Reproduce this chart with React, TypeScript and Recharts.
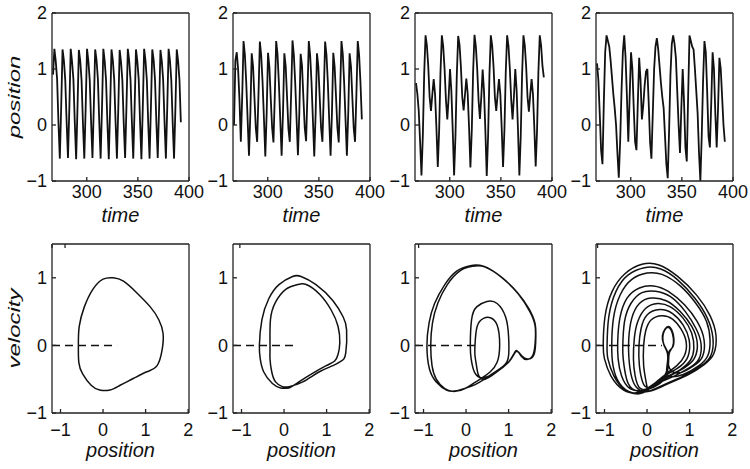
import { LineChart, Line, XAxis, YAxis, ReferenceLine } from 'recharts'

const FONT = '"Liberation Sans", Arial, Helvetica, sans-serif'
const INK = '#111'

// time axis (top row)
const TIME_START = 267
const TIME_STEP = 1.33
const TIME_DOMAIN = [266, 400]
const TIME_TICKS = [300, 350, 400]
const POS_DOMAIN = [-1, 2]
const POS_TICKS = [-1, 0, 1, 2]

// phase axes (bottom row)
const PHASE_DOMAIN = [-1.2, 2.02]
const PHASE_TICKS = [-1, 0, 1, 2]
const VEL_DOMAIN = [-1, 1.5]
const VEL_TICKS = [-1, 0, 1]

// position vs time, sampled every TIME_STEP
const SERIES_1 = [
  0.9,
  1.36, 1.14, 0.82, 0.04, -0.6, 0.32,
  1.35, 1.15, 0.8, 0.06, -0.59, 0.3,
  1.36, 1.13, 0.81, 0.05, -0.61, 0.31,
  1.34, 1.15, 0.79, 0.03, -0.6, 0.3,
  1.36, 1.14, 0.8, 0.05, -0.59, 0.33,
  1.35, 1.16, 0.82, 0.06, -0.6, 0.29,
  1.36, 1.14, 0.8, 0.04, -0.61, 0.31,
  1.35, 1.15, 0.81, 0.05, -0.6, 0.3,
  1.34, 1.13, 0.79, 0.03, -0.59, 0.32,
  1.36, 1.15, 0.8, 0.05, -0.6, 0.31,
  1.35, 1.14, 0.82, 0.06, -0.61, 0.3,
  1.36, 1.15, 0.8, 0.04, -0.6, 0.32,
  1.35, 1.16, 0.81, 0.05, -0.59, 0.3,
  1.34, 1.14, 0.8, 0.06, -0.6, 0.31,
  1.36, 1.15, 0.79, 0.04, -0.6, 0.3,
  1.35, 1.14, 0.8, 0.05,
]

const SERIES_2 = [
  0.0, 1.15, 1.3, 1.0, 0.45, -0.3, 0.5,
  1.5, 1.25, 0.75, 0.1, -0.55, 0.2, 1.28, 1.05, 0.5, -0.05, -0.3, 0.55,
  1.49, 1.24, 0.76, 0.12, -0.56, 0.2, 1.29, 1.04, 0.48, -0.04, -0.31, 0.54,
  1.5, 1.26, 0.74, 0.1, -0.55, 0.21, 1.28, 1.05, 0.5, -0.06, -0.3, 0.55,
  1.51, 1.25, 0.75, 0.11, -0.54, 0.2, 1.27, 1.06, 0.49, -0.05, -0.29, 0.56,
  1.5, 1.24, 0.75, 0.1, -0.56, 0.19, 1.28, 1.05, 0.5, -0.05, -0.3, 0.55,
  1.49, 1.25, 0.76, 0.09, -0.55, 0.2, 1.29, 1.04, 0.51, -0.04, -0.31, 0.54,
  1.5, 1.26, 0.75, 0.1, -0.55, 0.21, 1.28, 1.05, 0.5, -0.05, -0.3, 0.55,
  1.5, 1.25, 0.75, 0.1,
]

const SERIES_3 = [
  0.75, 0.55, 0.25, -0.3, -0.9, -0.2, 0.9,
  1.6, 1.42, 1.05, 0.5, 0.25, 0.55, 0.82, 0.55, -0.05, -0.75, -0.1, 0.95,
  1.6, 1.4, 1.0, 0.45, 0.1, 0.5, 1.0, 0.6, -0.1, -0.9, -0.2, 0.9,
  1.59, 1.43, 1.04, 0.5, 0.26, 0.54, 0.83, 0.56, -0.04, -0.76, -0.1, 0.96,
  1.61, 1.4, 1.0, 0.44, 0.11, 0.5, 0.99, 0.6, -0.1, -0.91, -0.2, 0.9,
  1.6, 1.42, 1.05, 0.5, 0.25, 0.55, 0.82, 0.55, -0.05, -0.75, -0.1, 0.95,
  1.6, 1.41, 1.0, 0.45, 0.1, 0.51, 1.0, 0.61, -0.1, -0.9, -0.21, 0.9,
  1.6, 1.42, 1.04, 0.5, 0.24, 0.55, 0.82, 0.55, -0.05, -0.74, -0.1, 0.95,
  1.6, 1.42, 1.05, 0.85,
]

const SERIES_4 = [
  1.1, 0.8, 0.2, -0.45, -0.7, 0.4, 1.3, 1.6, 1.5, 1.4,
  1.15, 0.85, 0.55, 0.3, 0.0, -0.5, -0.94, -0.3, 0.6, 1.3,
  1.6, 1.2, 0.5, -0.3, 0.5, 1.3, 1.0, 0.3, -0.3, -0.45,
  0.4, 1.2, 0.8, 0.1, 0.35, 0.7, 0.95, 1.0, 0.4, -0.3,
  -0.6, 0.2, 1.0, 1.4, 1.55, 1.35, 1.05, 0.75, 0.5, 0.3,
  -0.2, -0.7, -0.95, -0.1, 0.9, 1.45, 1.6, 1.45, 1.2, 0.6,
  0.0, -0.5, 0.3, 1.0, 0.4, -0.4, -0.65, 0.5, 1.6, 1.5,
  1.4, 1.35, 1.0, 0.6, 0.2, -0.5, -1.0, -0.2, 0.8, 1.5,
  1.3, 0.6, -0.2, -0.4, 0.4, 1.3, 1.0, 0.2, -0.4, 0.3,
  1.2, 1.0, 0.5, 0.0, -0.3,
]

// velocity vs position, [position, velocity] in drawing order
const PHASE_1 = [
  [-0.58, 0.01], [-0.56, 0.28], [-0.44, 0.57], [-0.24, 0.83], [0.0, 0.98], [0.24, 1.0],
  [0.48, 0.95], [0.79, 0.78], [1.11, 0.57], [1.31, 0.38], [1.41, 0.18], [1.39, -0.06],
  [1.27, -0.3], [1.03, -0.39], [0.71, -0.49], [0.4, -0.59], [0.16, -0.66], [-0.08, -0.66],
  [-0.28, -0.59], [-0.48, -0.42], [-0.57, -0.25], [-0.58, 0.01],
]

const PHASE_2 = [
  [0.12, -0.63], [-0.08, -0.63], [-0.28, -0.56], [-0.48, -0.39], [-0.56, -0.2], [-0.58, 0.0],
  [-0.52, 0.38], [-0.36, 0.69], [-0.12, 0.9], [0.2, 1.02], [0.4, 1.02], [0.75, 0.9],
  [1.15, 0.66], [1.39, 0.42], [1.47, 0.23], [1.45, -0.11], [1.35, -0.23], [1.15, -0.3],
  [0.83, -0.39], [0.44, -0.54],
  [0.12, -0.61], [-0.04, -0.61], [-0.2, -0.54], [-0.29, -0.39], [-0.33, -0.2], [-0.33, 0.0],
  [-0.32, 0.38], [-0.2, 0.64], [0.04, 0.83], [0.32, 0.9], [0.52, 0.9], [0.83, 0.76],
  [1.11, 0.52], [1.27, 0.28], [1.31, 0.04], [1.27, -0.13], [1.19, -0.23], [0.99, -0.3],
  [0.6, -0.44], [0.3, -0.56], [0.12, -0.63],
]

const PHASE_3 = [
  [0.1, -0.61], [-0.22, -0.67], [-0.46, -0.66], [-0.7, -0.54], [-0.86, -0.35], [-0.92, -0.01],
  [-0.87, 0.33], [-0.74, 0.62], [-0.5, 0.9], [-0.22, 1.1], [0.1, 1.18], [0.41, 1.17],
  [0.81, 1.02], [1.21, 0.78], [1.48, 0.54], [1.62, 0.33], [1.64, 0.13], [1.6, -0.13],
  [1.44, -0.2], [1.32, -0.16], [1.21, -0.09], [1.13, -0.13], [1.0, -0.25], [0.73, -0.39],
  [0.45, -0.5], [0.3, -0.45],
  [0.25, -0.32], [0.21, -0.15], [0.21, 0.0], [0.26, 0.28], [0.41, 0.4], [0.57, 0.41],
  [0.73, 0.3], [0.79, 0.01], [0.73, -0.25], [0.57, -0.39], [0.4, -0.47], [0.2, -0.55],
  [0.0, -0.63],
  [-0.25, -0.68], [-0.5, -0.64], [-0.7, -0.5], [-0.8, -0.3], [-0.83, 0.0], [-0.79, 0.33],
  [-0.66, 0.63], [-0.44, 0.9], [-0.15, 1.1], [0.15, 1.17], [0.45, 1.16], [0.85, 1.0],
  [1.23, 0.76], [1.5, 0.5], [1.62, 0.3], [1.63, 0.1], [1.58, -0.13], [1.43, -0.21],
  [1.31, -0.17], [1.2, -0.08], [1.12, -0.13], [0.98, -0.26], [0.7, -0.4], [0.4, -0.48],
  [0.2, -0.4],
  [0.12, -0.2], [0.1, 0.0], [0.13, 0.38], [0.25, 0.57], [0.49, 0.65], [0.73, 0.62],
  [0.93, 0.42], [1.0, 0.13], [1.0, -0.15], [0.89, -0.3], [0.57, -0.44], [0.3, -0.55],
  [0.1, -0.61],
]

const PHASE_4 = [
  [-0.2, -0.72], [-0.55, -0.66], [-0.85, -0.45], [-1.0, -0.2], [-1.03, 0.0], [-0.99, 0.42],
  [-0.82, 0.8], [-0.52, 1.06], [-0.12, 1.2], [0.28, 1.19], [0.72, 1.02], [1.17, 0.74],
  [1.48, 0.44], [1.62, 0.15], [1.57, -0.12], [1.35, -0.28], [0.95, -0.44], [0.45, -0.58],
  [0.05, -0.68],
  [-0.3, -0.66], [-0.48, -0.5], [-0.56, -0.2], [-0.57, 0.0], [-0.53, 0.35], [-0.38, 0.62],
  [-0.12, 0.78], [0.2, 0.8], [0.55, 0.72], [0.9, 0.5], [1.15, 0.25], [1.27, 0.02],
  [1.22, -0.2], [1.0, -0.33], [0.65, -0.45], [0.3, -0.55], [-0.05, -0.66],
  [-0.35, -0.7], [-0.65, -0.56], [-0.8, -0.3], [-0.83, 0.0], [-0.79, 0.4], [-0.63, 0.75],
  [-0.35, 0.98], [0.0, 1.07], [0.35, 1.05], [0.78, 0.88], [1.15, 0.62], [1.4, 0.35],
  [1.48, 0.08], [1.43, -0.15], [1.22, -0.3], [0.85, -0.43], [0.5, -0.45],
  [0.47, -0.3], [0.48, -0.12], [0.4, 0.0], [0.37, 0.12], [0.41, 0.22], [0.49, 0.27],
  [0.57, 0.22], [0.62, 0.1], [0.6, -0.02], [0.52, -0.12], [0.5, -0.3], [0.4, -0.5],
  [0.15, -0.62],
  [-0.15, -0.64], [-0.28, -0.45], [-0.32, -0.2], [-0.3, 0.1], [-0.22, 0.35], [-0.03, 0.55],
  [0.25, 0.62], [0.55, 0.57], [0.85, 0.4], [1.05, 0.18], [1.1, -0.05], [1.02, -0.22],
  [0.8, -0.35], [0.5, -0.45], [0.2, -0.56],
  [-0.1, -0.7], [-0.5, -0.66], [-0.78, -0.45], [-0.92, -0.2], [-0.94, 0.0], [-0.9, 0.42],
  [-0.73, 0.8], [-0.45, 1.04], [-0.06, 1.15], [0.32, 1.13], [0.72, 0.97], [1.12, 0.7],
  [1.42, 0.4], [1.55, 0.1], [1.5, -0.15], [1.28, -0.3], [0.9, -0.44], [0.4, -0.58],
  [0.0, -0.68],
  [-0.25, -0.62], [-0.38, -0.42], [-0.43, -0.15], [-0.43, 0.1], [-0.36, 0.4], [-0.18, 0.62],
  [0.1, 0.7], [0.45, 0.66], [0.78, 0.5], [1.05, 0.28], [1.18, 0.04], [1.12, -0.18],
  [0.9, -0.32], [0.55, -0.45], [0.2, -0.58], [-0.1, -0.66],
  [-0.4, -0.64], [-0.6, -0.45], [-0.68, -0.2], [-0.69, 0.05], [-0.64, 0.4], [-0.47, 0.7],
  [-0.18, 0.85], [0.15, 0.88], [0.5, 0.8], [0.88, 0.6], [1.18, 0.35], [1.34, 0.08],
  [1.3, -0.17], [1.1, -0.3], [0.8, -0.4], [0.55, -0.36],
  [0.49, -0.2], [0.47, -0.08], [0.39, 0.02], [0.36, 0.14], [0.42, 0.24], [0.5, 0.28],
  [0.58, 0.23], [0.63, 0.1], [0.6, -0.03], [0.51, -0.1], [0.49, -0.3], [0.35, -0.5],
  [0.05, -0.62],
  [-0.1, -0.55], [-0.18, -0.3], [-0.19, 0.0], [-0.14, 0.25], [0.0, 0.45], [0.3, 0.53],
  [0.6, 0.47], [0.85, 0.3], [0.99, 0.08], [0.97, -0.15], [0.8, -0.3], [0.55, -0.4],
  [0.3, -0.5], [0.05, -0.62],
  [-0.02, -0.55], [-0.08, -0.3], [-0.08, 0.0], [-0.03, 0.22], [0.1, 0.38], [0.35, 0.44],
  [0.6, 0.39], [0.8, 0.24], [0.92, 0.05], [0.88, -0.15], [0.7, -0.3], [0.45, -0.42],
  [0.2, -0.55], [-0.2, -0.72],
]

// where the dashed zero line stops in each phase panel
const DASH_END = [0.33, 0.28, 0.28, 0.35]

const TIME_SERIES = [SERIES_1, SERIES_2, SERIES_3, SERIES_4]
const PHASES = [PHASE_1, PHASE_2, PHASE_3, PHASE_4]

// layout
const BOX_LEFTS = [52, 233, 415, 596]
const BOX_W = 137
const Y_W = 52
const CHART_W = Y_W + BOX_W + 1 + 20

const tickStyle = { fill: INK, fontSize: 18, fontFamily: FONT }
const axisLine = { stroke: '#222', strokeWidth: 1.3 }
const fmt = (v: number) => String(v).replace('-', '\u2212')
const noTick = () => <g />

function BottomTitle({ viewBox, text, baseline }: any) {
  if (!viewBox) return null
  return (
    <text x={viewBox.x + viewBox.width / 2} y={viewBox.y + baseline} textAnchor="middle"
      fontFamily={FONT} fontStyle="italic" fontSize={20} fill={INK}>{text}</text>
  )
}

function SideTitle({ viewBox, text }: any) {
  if (!viewBox) return null
  const x = viewBox.x + 20
  const y = viewBox.y + viewBox.height / 2
  return (
    <text transform={`translate(${x},${y}) scale(0.7,1) rotate(-90)`} textAnchor="middle"
      fontFamily={FONT} fontStyle="italic" fontSize={24} fill={INK}>{text}</text>
  )
}

function TimePanel({ values, idx }: { values: number[]; idx: number }) {
  const data = values.map((x, i) => ({ t: TIME_START + i * TIME_STEP, x }))
  return (
    <div style={{ position: 'absolute', left: BOX_LEFTS[idx] - Y_W, top: 2 }}>
      <LineChart width={CHART_W} height={224} data={data} margin={{ top: 10, right: 20, bottom: 0, left: 0 }}>
        <XAxis dataKey="t" type="number" domain={TIME_DOMAIN} ticks={TIME_TICKS} interval={0}
          height={45} tickSize={-4} tickMargin={8} tick={tickStyle} tickLine={axisLine} axisLine={axisLine}
          label={<BottomTitle text="time" baseline={41} />} />
        <XAxis xAxisId="top" orientation="top" type="number" domain={TIME_DOMAIN} ticks={TIME_TICKS}
          height={1} tickSize={-4} tick={noTick} tickLine={axisLine} axisLine={axisLine} />
        <YAxis type="number" domain={POS_DOMAIN} ticks={POS_TICKS} interval={0} width={Y_W}
          tickSize={-4} tickMargin={9} tick={tickStyle} tickFormatter={fmt} tickLine={axisLine} axisLine={axisLine}
          label={idx === 0 ? <SideTitle text="position" /> : undefined} />
        <YAxis yAxisId="right" orientation="right" type="number" domain={POS_DOMAIN} ticks={POS_TICKS}
          width={1} tickSize={-4} tick={noTick} tickLine={axisLine} axisLine={axisLine} />
        <Line dataKey="x" type="linear" dot={false} stroke={INK} strokeWidth={1.8} isAnimationActive={false} />
      </LineChart>
    </div>
  )
}

function PhasePanel({ points, idx }: { points: number[][]; idx: number }) {
  const data = points.map(([x, v]) => ({ x, v }))
  return (
    <div style={{ position: 'absolute', left: BOX_LEFTS[idx] - Y_W, top: 233 }}>
      <LineChart width={CHART_W} height={236} data={data} margin={{ top: 10, right: 20, bottom: 0, left: 0 }}>
        <XAxis dataKey="x" type="number" domain={PHASE_DOMAIN} ticks={PHASE_TICKS} interval={0}
          height={56} tickSize={-4} tickMargin={14} tick={tickStyle} tickFormatter={fmt}
          tickLine={axisLine} axisLine={axisLine}
          label={<BottomTitle text="position" baseline={44} />} />
        <XAxis xAxisId="top" orientation="top" type="number" domain={PHASE_DOMAIN} ticks={PHASE_TICKS}
          height={1} tickSize={-4} tick={noTick} tickLine={axisLine} axisLine={axisLine} />
        <YAxis type="number" domain={VEL_DOMAIN} ticks={VEL_TICKS} interval={0} width={Y_W}
          tickSize={-4} tickMargin={9} tick={tickStyle} tickFormatter={fmt} tickLine={axisLine} axisLine={axisLine}
          label={idx === 0 ? <SideTitle text="velocity" /> : undefined} />
        <YAxis yAxisId="right" orientation="right" type="number" domain={VEL_DOMAIN} ticks={VEL_TICKS}
          width={1} tickSize={-4} tick={noTick} tickLine={axisLine} axisLine={axisLine} />
        <ReferenceLine segment={[{ x: PHASE_DOMAIN[0], y: 0 }, { x: DASH_END[idx], y: 0 }]}
          stroke={INK} strokeWidth={1.5} strokeDasharray="8 5" />
        <Line dataKey="v" type="natural" dot={false} stroke={INK} strokeWidth={1.5} isAnimationActive={false} />
      </LineChart>
    </div>
  )
}

export default function App() {
  return (
    <div style={{ position: 'absolute', left: 0, top: 0, width: 750, height: 469, background: '#fff', overflow: 'hidden' }}>
      {TIME_SERIES.map((s, i) => <TimePanel key={'t' + i} values={s} idx={i} />)}
      {PHASES.map((p, i) => <PhasePanel key={'p' + i} points={p} idx={i} />)}
    </div>
  )
}
